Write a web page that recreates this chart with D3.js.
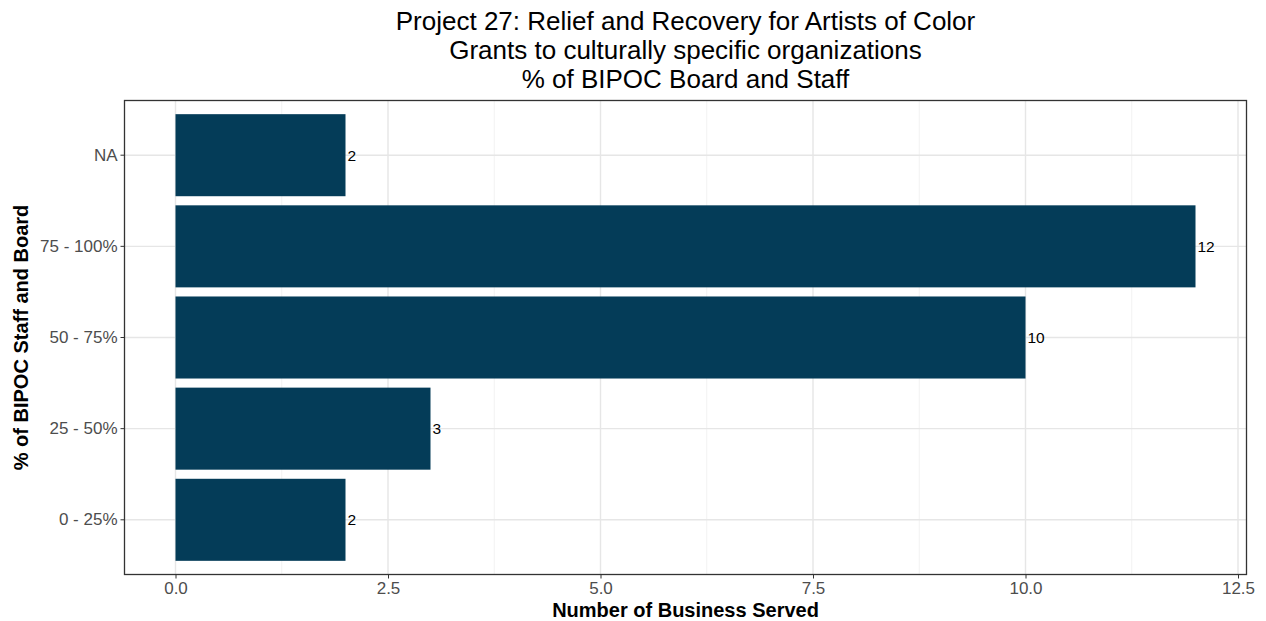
<!DOCTYPE html>
<html><head><meta charset="utf-8">
<script src="https://cdn.jsdelivr.net/npm/d3@7"></script>
<style>body{margin:0;background:#fff}svg{display:block}text{font-family:"Liberation Sans",Arial,sans-serif}</style>
</head><body>
<svg id="chart" width="1266" height="621"></svg>
<script>
const categories = ["0 - 25%", "25 - 50%", "50 - 75%", "75 - 100%", "NA"];
const counts = [2, 3, 10, 12, 2];
const xTicks = [0, 2.5, 5, 7.5, 10, 12.5];
const xMinor = [1.25, 3.75, 6.25, 8.75, 11.25];
const titleLines = ["Project 27: Relief and Recovery for Artists of Color", "Grants to culturally specific organizations", "% of BIPOC Board and Staff"];
const xTitle = "Number of Business Served";
const yTitle = "% of BIPOC Staff and Board";

const svg = d3.select("#chart");
const L = 124.5, R = 1246.5, T = 100.5, B = 574.5;
const x = d3.scaleLinear().domain([-0.6, 12.6]).range([L, R]);
const order = categories.slice().reverse();
const y = d3.scaleBand().domain(order).range([T, B]).paddingInner(0.1).paddingOuter(0.15);

const g = svg.append("g");
g.selectAll(".minor").data(xMinor).join("line")
  .attr("x1", d => x(d)).attr("x2", d => x(d)).attr("y1", T).attr("y2", B)
  .attr("stroke", "#f2f2f2").attr("stroke-width", 1);
g.selectAll(".major").data(xTicks).join("line")
  .attr("x1", d => x(d)).attr("x2", d => x(d)).attr("y1", T).attr("y2", B)
  .attr("stroke", "#e6e6e6").attr("stroke-width", 1.4);
g.selectAll(".hgrid").data(order).join("line")
  .attr("x1", L).attr("x2", R).attr("y1", d => y(d) + y.bandwidth()/2).attr("y2", d => y(d) + y.bandwidth()/2)
  .attr("stroke", "#e6e6e6").attr("stroke-width", 1.4);

const data = categories.map((c, i) => ({c, v: counts[i]}));
g.selectAll(".bar").data(data).join("rect")
  .attr("x", x(0)).attr("y", d => y(d.c))
  .attr("width", d => x(d.v) - x(0)).attr("height", y.bandwidth())
  .attr("fill", "#043c58");
g.selectAll(".lbl").data(data).join("text")
  .attr("x", d => x(d.v) + 2).attr("y", d => y(d.c) + y.bandwidth()/2)
  .attr("dy", "0.36em").attr("font-size", 15.5).attr("fill", "#000")
  .text(d => d.v);

svg.append("rect").attr("x", L).attr("y", T).attr("width", R - L).attr("height", B - T)
  .attr("fill", "none").attr("stroke", "#333").attr("stroke-width", 1.3);

const xa = svg.append("g").attr("transform", `translate(0,${B})`)
  .call(d3.axisBottom(x).tickValues(xTicks).tickFormat(d3.format(".1f")).tickSize(4).tickPadding(3));
xa.select(".domain").remove();
xa.selectAll("line").attr("stroke", "#333");
xa.selectAll("text").attr("font-size", 17).attr("fill", "#4d4d4d").style("font-family", "Liberation Sans, Arial, sans-serif");

const ya = svg.append("g").attr("transform", `translate(${L},0)`)
  .call(d3.axisLeft(y).tickSize(4).tickPadding(3));
ya.select(".domain").remove();
ya.selectAll("line").attr("stroke", "#333");
ya.selectAll("text").attr("font-size", 17).attr("fill", "#4d4d4d").style("font-family", "Liberation Sans, Arial, sans-serif");

const cx = (L + R) / 2;
svg.append("g").selectAll("text").data(titleLines).join("text")
  .attr("x", cx).attr("y", (d, i) => 30 + i * 29)
  .attr("text-anchor", "middle").attr("font-size", 26).attr("fill", "#000")
  .text(d => d);

svg.append("text").attr("x", cx).attr("y", 617).attr("text-anchor", "middle")
  .attr("font-size", 20).attr("font-weight", "bold").attr("fill", "#000").text(xTitle);
svg.append("text").attr("transform", `translate(28,${(T + B) / 2}) rotate(-90)`)
  .attr("text-anchor", "middle").attr("font-size", 20).attr("font-weight", "bold").attr("fill", "#000").text(yTitle);
</script>
</body></html>
